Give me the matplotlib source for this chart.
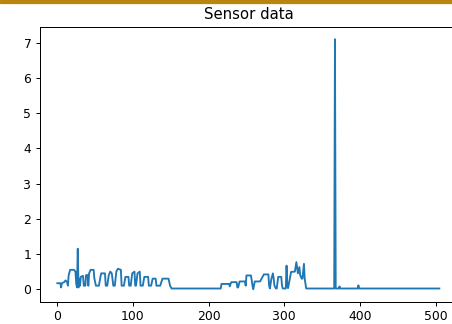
import matplotlib
matplotlib.use("Agg")
import matplotlib.pyplot as plt
from matplotlib.patches import Rectangle

# sensor readings (sample index, value)
x = [0, 4, 5, 6, 9, 11, 13, 14, 15, 17, 22, 24, 25, 26, 27, 28, 29, 30, 31, 34,
     35, 37, 38, 40, 41, 42, 44, 48, 49, 51, 55, 57, 58, 63, 64, 66, 68, 70, 72, 74,
     76, 78, 80, 84, 85, 88, 90, 94, 95, 97, 99, 102, 103, 104, 106, 109, 110, 113, 115, 120,
     121, 124, 126, 130, 131, 136, 139, 147, 149, 151,
     216, 217, 220, 227, 228, 229, 230, 237, 238, 239, 241, 248, 249, 250, 256, 258, 259,
     261, 268, 270, 273, 275, 279, 280, 281, 283, 285, 286, 287, 289, 290, 292, 296, 297,
     298, 302, 303, 304, 305, 309, 314, 316, 318, 320, 321, 323, 324, 326, 327, 329,
     366, 367, 368, 372, 373, 374, 397, 398, 399, 505]
y = [0.17, 0.17, 0.05, 0.17, 0.2, 0.25, 0.2, 0.1, 0.4, 0.55, 0.55, 0.5, 0.15, 0.05, 1.15, 0.05, 0.3, 0.1, 0.35, 0.38,
     0.1, 0.1, 0.4, 0.4, 0.1, 0.45, 0.55, 0.55, 0.3, 0.1, 0.1, 0.35, 0.45, 0.45, 0.1, 0.1, 0.4, 0.5, 0.45, 0.1,
     0.1, 0.5, 0.58, 0.55, 0.1, 0.1, 0.35, 0.35, 0.1, 0.1, 0.45, 0.5, 0.1, 0.1, 0.45, 0.5, 0.1, 0.1, 0.35, 0.35,
     0.1, 0.1, 0.3, 0.3, 0.1, 0.1, 0.3, 0.3, 0.1, 0.02,
     0.02, 0.15, 0.15, 0.15, 0.08, 0.15, 0.2, 0.2, 0.05, 0.05, 0.22, 0.22, 0.1, 0.39, 0.39, 0.1, 0.0,
     0.22, 0.22, 0.3, 0.42, 0.42, 0.42, 0.1, 0.02, 0.3, 0.45, 0.3, 0.1, 0.02, 0.02, 0.35, 0.35, 0.1,
     0.02, 0.02, 0.67, 0.1, 0.03, 0.49, 0.5, 0.77, 0.45, 0.63, 0.4, 0.3, 0.3, 0.72, 0.3, 0.02,
     0.02, 7.1, 0.02, 0.02, 0.08, 0.02, 0.02, 0.11, 0.02, 0.02]

# the screenshot is a slightly enlarged notebook figure, so render at ~89 dpi
dpi = 72 * 1.24
fig = plt.figure(figsize=(452 / dpi, 324 / dpi), dpi=dpi)
# the screenshot cuts the plot off on the right, so the axes run past the edge
ax = fig.add_axes([40 / 452, 0.0688, 430 / 452, 0.8488])
ax.plot(x, y, color="#1f77b4", linewidth=1.5)
ax.set_xlim(-22.9, -22.9 + 430 / 0.7565)
ax.set_title("Sensor data", x=0.486)
ax.set_xticks([0, 100, 200, 300, 400, 500])
ax.set_yticks(range(8))
ax.spines["right"].set_visible(False)

# gold strip along the top edge of the screenshot
fig.patches.append(Rectangle((0, 1 - 3 / 324), 1, 3 / 324, transform=fig.transFigure,
                             color="#b8860b", zorder=10))

fig.savefig("out.png", dpi=dpi)
